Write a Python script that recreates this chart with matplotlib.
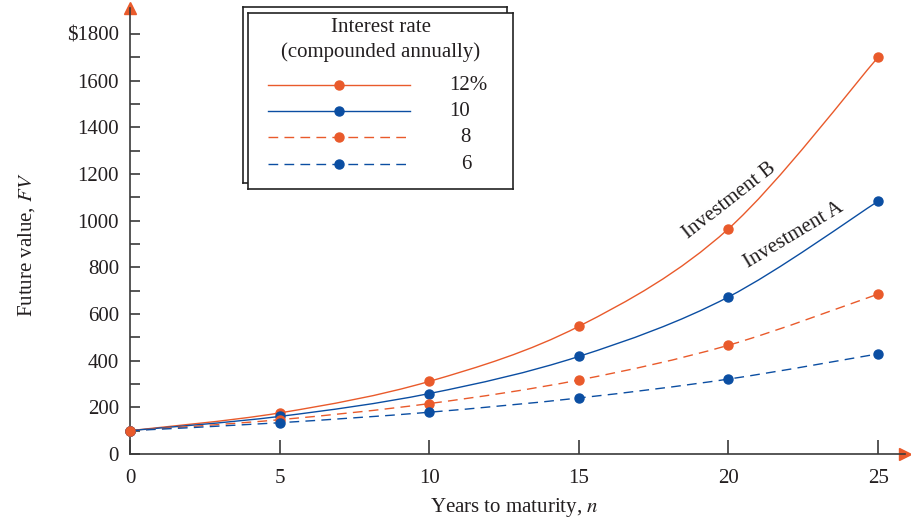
import matplotlib
matplotlib.use("Agg")
import matplotlib.pyplot as plt
import numpy as np
from matplotlib.path import Path
from matplotlib.patches import PathPatch

plt.rcParams['font.family'] = ['Liberation Serif', 'DejaVu Serif']
plt.rcParams['mathtext.fontset'] = 'stix'

# data: future value of $100
years = [0, 5, 10, 15, 20, 25]
fv_12 = [100, 176, 311, 547, 965, 1700]
fv_10 = [100, 161, 259, 418, 673, 1083]
fv_8 = [100, 147, 216, 317, 466, 685]
fv_6 = [100, 134, 179, 240, 321, 429]
rate_labels = ['12%', '10', '8', '6']

orange = '#E95A2B'
blue = '#0B4EA2'
txt = '#231F20'
axc = '#3a3a3a'
fs = 15

series = [
    (fv_12, orange, '-'),
    (fv_10, blue, '-'),
    (fv_8, orange, (0, (7, 4.5))),
    (fv_6, blue, (0, (7, 4.5))),
]

fig = plt.figure(figsize=(9.11, 5.21), dpi=100)
ax = fig.add_axes([130/911, 1-454/521, (905-130)/911, (454-8)/521])


def smooth_path(xs, ys):
    # catmull-rom style bezier through the data points
    p = np.column_stack([xs, ys]).astype(float)
    ext = np.vstack([p[0], p, p[-1]])
    verts = [p[0]]
    codes = [Path.MOVETO]
    for i in range(1, len(ext) - 2):
        c1 = ext[i] + (ext[i+1] - ext[i-1]) / 6
        c2 = ext[i+1] - (ext[i+2] - ext[i]) / 6
        verts += [c1, c2, ext[i+1]]
        codes += [Path.CURVE4] * 3
    return Path(verts, codes)


for vals, col, ls in series:
    ax.add_patch(PathPatch(smooth_path(years, vals), fill=False, edgecolor=col,
                           lw=1.0, linestyle=ls, zorder=2))
    ax.plot(years, vals, 'o', color=col, ms=6.5, zorder=3, clip_on=False)

# origin point shown in orange
ax.plot(years[0], fv_12[0], 'o', color=orange, ms=6.5, zorder=4, clip_on=False)

ax.set_xlim(0, 25.9)
ax.set_ylim(0, 1911)
for s in ['top', 'right']:
    ax.spines[s].set_visible(False)
for s in ['left', 'bottom']:
    ax.spines[s].set_color(axc)
    ax.spines[s].set_linewidth(1.2)

ax.set_xticks(years)
ax.set_xticklabels([str(y) for y in years])
yt = list(range(0, 1801, 200))
ax.set_yticks(yt)
ax.set_yticklabels(['$1800' if v == 1800 else str(v) for v in yt])
ax.set_yticks(list(range(100, 1800, 200)), minor=True)
ax.tick_params(axis='y', which='both', direction='in', length=7, width=1.2,
               color=axc, labelsize=fs, labelcolor=txt, pad=8)
ax.tick_params(axis='x', direction='in', length=10, width=1.2, color=axc,
               labelsize=fs, labelcolor=txt, pad=11)

# axis arrows
ax.plot(0, 1, marker='^', color=orange, ms=8, transform=ax.transAxes, clip_on=False)
ax.plot(1, 0, marker='>', color=orange, ms=8, transform=ax.transAxes, clip_on=False)

ax.set_xlabel('Years to maturity, $n$', fontsize=fs, color=txt, va='center')
ax.xaxis.set_label_coords(0.496, -0.121)
ax.set_ylabel('Future value, $FV$', fontsize=fs, color=txt)
ax.yaxis.set_label_coords(-0.12, 0.47)

ax.text(20.02, 1084, 'Investment B', rotation=38, ha='center', va='center',
        fontsize=fs, color=txt)
ax.text(22.2, 938, 'Investment A', rotation=31, ha='center', va='center',
        fontsize=fs, color=txt)

# legend boxes (shadow + front)
back = fig.add_axes([243/911, 1-183/521, (507-243)/911, (183-7)/521])
back.set_xticks([]); back.set_yticks([])
for s in back.spines.values():
    s.set_color('#222222'); s.set_linewidth(1.2)
lg = fig.add_axes([248/911, 1-189/521, (513-248)/911, (189-13)/521])
lg.set_xticks([]); lg.set_yticks([])
for s in lg.spines.values():
    s.set_color('#222222'); s.set_linewidth(1.2)
lg.set_xlim(248, 513)
lg.set_ylim(189, 13)
lg.text(381, 27, 'Interest rate', ha='center', va='center', fontsize=fs, color=txt)
lg.text(381, 52, '(compounded annually)', ha='center', va='center', fontsize=fs, color=txt)
ly = [85, 111, 137, 164]
for (vals, col, ls), y, lab in zip(series, ly, rate_labels):
    lg.plot([268, 410], [y, y], color=col, lw=1.0, linestyle=ls)
    lg.plot([339], [y], 'o', color=col, ms=6.5)
    if lab in ('8', '6'):
        lg.text(471, y, lab, ha='right', va='center', fontsize=fs, color=txt)
    else:
        lg.text(449, y, lab, ha='left', va='center', fontsize=fs, color=txt)

fig.savefig('out.png', dpi=100)
